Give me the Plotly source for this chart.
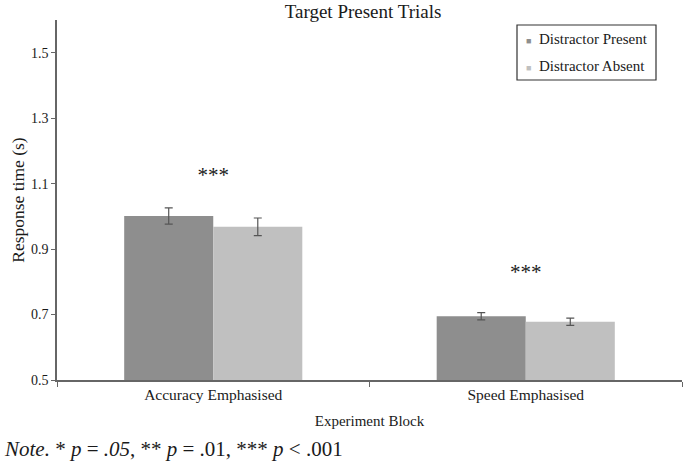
import plotly.graph_objects as go

categories = ["Accuracy Emphasised", "Speed Emphasised"]
series_names = ["Distractor Present", "Distractor Absent"]
present_vals = [1.001, 0.695]
present_err = [0.025, 0.011]
absent_vals = [0.968, 0.678]
absent_err = [0.027, 0.011]
sig_labels = ["***", "***"]
sig_y = [1.122, 0.826]
y_ticks = [0.5, 0.7, 0.9, 1.1, 1.3, 1.5]

FONT = "Liberation Serif, Times New Roman, serif"
AXC = "#666666"
TXT = "#1a1a1a"
COLORS = ["#8e8e8e", "#c0c0c0"]

W, H = 685, 466
ML, MR, MT, MB = 57, 3, 20, 86

fig = go.Figure()
for name, vals, errs, col in zip(series_names, [present_vals, absent_vals],
                                 [present_err, absent_err], COLORS):
    fig.add_trace(go.Bar(
        x=categories, y=vals, name=name,
        marker=dict(color=col, line=dict(width=0)),
        error_y=dict(type="data", array=errs, color="#555555", thickness=1.2, width=4),
    ))
fig.add_trace(go.Scatter(
    x=categories, y=sig_y, mode="text", text=sig_labels, showlegend=False,
    textfont=dict(family=FONT, size=21, color=TXT), hoverinfo="skip",
))

fig.update_layout(
    width=W, height=H,
    margin=dict(l=ML, r=MR, t=MT, b=MB, autoexpand=False),
    paper_bgcolor="white", plot_bgcolor="white",
    barmode="group", bargap=0.43, bargroupgap=0,
    font=dict(family=FONT, size=14, color=TXT),
    title=dict(text="Target Present Trials", x=0.53, xanchor="center", y=0.975, yanchor="middle",
               font=dict(family=FONT, size=19, color=TXT)),
    showlegend=False,
)
fig.update_xaxes(
    type="category", showline=True, linecolor=AXC, linewidth=1.5,
    ticks="outside", tickson="boundaries", ticklen=5, tickcolor=AXC,
    showgrid=False,
    title=dict(text="Experiment Block", font=dict(family=FONT, size=15, color=TXT), standoff=13),
    tickfont=dict(family=FONT, size=15.5, color=TXT),
)
fig.update_yaxes(
    range=[0.5, 1.6], tickvals=y_ticks, ticktext=[f"{v:.1f}" for v in y_ticks],
    showline=True, linecolor=AXC, linewidth=1.5,
    ticks="outside", ticklen=4, tickcolor=AXC, showgrid=False, zeroline=False,
    title=dict(text="Response time (s)", font=dict(family=FONT, size=17.5, color=TXT), standoff=2),
    tickfont=dict(family=FONT, size=14, color=TXT),
)

# custom legend box (paper coords)
pw, ph = W - ML - MR, H - MT - MB
def px2x(px): return (px - ML) / pw
def py2y(py): return (H - MB - py) / ph
fig.add_shape(type="rect", xref="paper", yref="paper",
              x0=px2x(517), x1=px2x(656), y0=py2y(80), y1=py2y(25),
              line=dict(color="#333", width=1.2), fillcolor="white", layer="above")
for name, col, ypx in zip(series_names, COLORS, [39, 66]):
    fig.add_annotation(
        text=f'<span style="color:{col};font-size:9px">■</span>  {name}',
        xref="paper", yref="paper", x=px2x(524), y=py2y(ypx),
        xanchor="left", yanchor="middle", showarrow=False,
        font=dict(family=FONT, size=15, color=TXT),
    )

fig.add_annotation(
    text="<i>Note.</i> * <i>p</i> = <i>.05</i>, ** <i>p</i> = .01, *** <i>p</i> < .001",
    xref="paper", yref="paper", x=px2x(2), y=py2y(449), xanchor="left", yanchor="middle",
    showarrow=False, font=dict(family=FONT, size=21, color=TXT),
)
fig.write_html("out.html", config={"displayModeBar": False},
               post_script="document.body.style.margin='0px';")
